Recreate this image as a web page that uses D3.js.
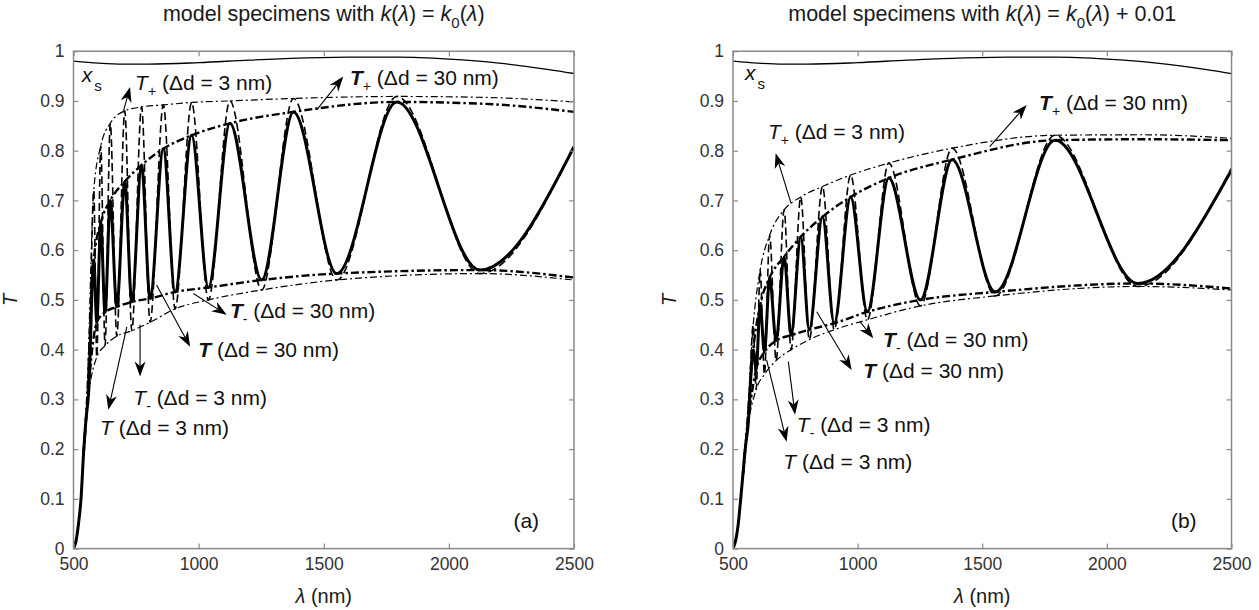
<!DOCTYPE html>
<html>
<head>
<meta charset="utf-8">
<script src="https://cdn.jsdelivr.net/npm/d3@7"></script>
<style>
body { margin: 0; background: #fff; }
svg text { font-family: "Liberation Sans", Arial, Helvetica, sans-serif; }
</style>
</head>
<body>
<svg id="fig" width="1259" height="610"></svg>
<script>
// wavelengths (nm) of the interference extrema, same film in both panels
var peakNm = [581, 609, 647, 705, 772, 859, 972, 1125, 1379, 1792];
var valleyNm = [593, 626, 673, 733, 806, 906, 1039, 1252, 1552, 2124];
var riseNm = [500, 510, 520, 530, 540, 550, 560];
var upTailNm = [2150, 2500];
var lowTailNm = [2500];
var xTicks = [500, 1000, 1500, 2000, 2500];
var yTicks = [0, 0.1, 0.2, 0.3, 0.4, 0.5, 0.6, 0.7, 0.8, 0.9, 1];

// substrate curve x_s (same in both panels)
var xsNm = [500, 600, 700, 800, 1000, 1200, 1400, 1600, 1800, 2000, 2200, 2400, 2500];
var xsVal = [0.98, 0.976, 0.974, 0.974, 0.977, 0.982, 0.986, 0.988, 0.988, 0.984, 0.976, 0.963, 0.955];

// panel (a): k = k0
var riseA = [0, 0.015, 0.05, 0.1, 0.19, 0.26, 0.31];
var tPeakA = [0.58, 0.655, 0.70, 0.738, 0.771, 0.804, 0.831, 0.855, 0.878, 0.898];
var tValleyA = [0.455, 0.475, 0.486, 0.496, 0.503, 0.516, 0.525, 0.540, 0.553, 0.560];
var t3PeakA = [0.72, 0.81, 0.855, 0.88, 0.888, 0.892, 0.897, 0.90, 0.905, 0.909];
var t3ValleyA = [0.385, 0.408, 0.427, 0.438, 0.455, 0.482, 0.50, 0.52, 0.54, 0.553];
var tEndA = 0.808, t3EndA = 0.81;
var up30TailA = [0.894, 0.878], up3TailA = [0.907, 0.898];
var low30TailA = [0.545], low3TailA = [0.54];

// panel (b): k = k0 + 0.01
var riseB = [0, 0.015, 0.045, 0.095, 0.15, 0.205, 0.245];
var tPeakB = [0.40, 0.49, 0.545, 0.587, 0.627, 0.667, 0.707, 0.745, 0.782, 0.821];
var tValleyB = [0.36, 0.395, 0.418, 0.429, 0.44, 0.453, 0.476, 0.50, 0.516, 0.533];
var t3PeakB = [0.45, 0.56, 0.63, 0.681, 0.707, 0.728, 0.751, 0.775, 0.805, 0.831];
var t3ValleyB = [0.32, 0.35, 0.378, 0.40, 0.42, 0.44, 0.46, 0.488, 0.508, 0.527];
var tEndB = 0.761, t3EndB = 0.765;
var up30TailB = [0.823, 0.821], up3TailB = [0.832, 0.825];
var low30TailB = [0.523], low3TailB = [0.52];

// annotations, in data units: label start, arrow tail, arrow tip
var notesA = [
    {sub: "+", rest: "(\u0394d = 3 nm)", bold: false, at: [746, 0.922], from: [699, 0.878], to: [726, 0.928]},
    {sub: "+", rest: "(\u0394d = 30 nm)", bold: true, at: [1605, 0.932], from: [1472, 0.882], to: [1578, 0.949]},
    {sub: "-", rest: "(\u0394d = 30 nm)", bold: true, at: [1125, 0.463], from: [979, 0.513], to: [1112, 0.470]},
    {sub: "", rest: "(\u0394d = 30 nm)", bold: true, at: [999, 0.386], from: [832, 0.530], to: [966, 0.406]},
    {sub: "-", rest: "(\u0394d = 3 nm)", bold: false, at: [739, 0.289], from: [766, 0.450], to: [766, 0.346]},
    {sub: "", rest: "(\u0394d = 3 nm)", bold: false, at: [606, 0.228], from: [713, 0.446], to: [639, 0.279]}
];
var notesB = [
    {sub: "+", rest: "(\u0394d = 3 nm)", bold: false, at: [640, 0.823], from: [733, 0.694], to: [671, 0.795]},
    {sub: "+", rest: "(\u0394d = 30 nm)", bold: true, at: [1728, 0.882], from: [1530, 0.808], to: [1678, 0.892]},
    {sub: "-", rest: "(\u0394d = 30 nm)", bold: true, at: [1102, 0.406], from: [1010, 0.456], to: [1063, 0.423]},
    {sub: "", rest: "(\u0394d = 30 nm)", bold: true, at: [1023, 0.342], from: [836, 0.476], to: [976, 0.359]},
    {sub: "-", rest: "(\u0394d = 3 nm)", bold: false, at: [756, 0.235], from: [722, 0.376], to: [749, 0.269]},
    {sub: "", rest: "(\u0394d = 3 nm)", bold: false, at: [702, 0.161], from: [635, 0.379], to: [715, 0.215]}
];

var svg = d3.select("#fig");
var plotTop = 51.2, plotBottom = 548.6;
var noteSize = 21;

// rise, then the extrema in wavelength order, then the value at 2500 nm
function oscPoints(rise, peaks, valleys, end) {
    var pts = riseNm.map(function(n, i) { return [n, rise[i]]; });
    var ext = peakNm.map(function(n, i) { return [n, peaks[i]]; })
        .concat(valleyNm.map(function(n, i) { return [n, valleys[i]]; }));
    ext.sort(function(a, b) { return a[0] - b[0]; });
    return pts.concat(ext, [[2500, end]]);
}

// envelope leaves the rising edge and runs through one set of extrema
function envPoints(rise, nm, vals, tailNm, tailVals) {
    var pts = [[riseNm[4], rise[4]], [riseNm[5], rise[5]]];
    nm.forEach(function(n, i) { pts.push([n, vals[i]]); });
    tailNm.forEach(function(n, i) { pts.push([n, tailVals[i]]); });
    return pts;
}

function drawArrow(g, x1, y1, x2, y2) {
    var a = Math.atan2(y2 - y1, x2 - x1);
    var c = Math.cos(a), s = Math.sin(a);
    var L = 15, w = 5.5, notch = 4.5;
    var bx = x2 - L * c, by = y2 - L * s;
    var nx = x2 - (L - notch) * c, ny = y2 - (L - notch) * s;
    g.append("line")
        .attr("x1", x1).attr("y1", y1).attr("x2", nx).attr("y2", ny)
        .attr("stroke", "#000").attr("stroke-width", 1.1);
    g.append("path")
        .attr("d", "M" + x2 + "," + y2 +
            "L" + (bx - w * s) + "," + (by + w * c) +
            "L" + nx + "," + ny +
            "L" + (bx + w * s) + "," + (by - w * c) + "Z")
        .attr("fill", "#000");
}

function drawNote(g, n, x, y) {
    var t = g.append("text")
        .attr("x", x(n.at[0])).attr("y", y(n.at[1]))
        .attr("font-size", noteSize).attr("fill", "#111");
    t.append("tspan").attr("font-style", "italic")
        .attr("font-weight", n.bold ? "bold" : "normal").text("T");
    if (n.sub) {
        t.append("tspan").attr("font-size", 14).attr("dy", 6).text(n.sub);
        t.append("tspan").attr("dy", -6).text(" " + n.rest);
    } else {
        t.append("tspan").text(" " + n.rest);
    }
    drawArrow(g, x(n.from[0]), y(n.from[1]), x(n.to[0]), y(n.to[1]));
}

function drawPanel(p) {
    var x = d3.scaleLinear().domain([500, 2500]).range([p.x0, p.x1]);
    var y = d3.scaleLinear().domain([0, 1]).range([plotBottom, plotTop]);
    var g = svg.append("g");

    var clipId = "clip" + p.key;
    svg.append("clipPath").attr("id", clipId)
        .append("rect").attr("x", p.x0).attr("y", plotTop)
        .attr("width", p.x1 - p.x0).attr("height", plotBottom - plotTop);

    var line = d3.line()
        .x(function(d) { return x(d[0]); })
        .y(function(d) { return y(d[1]); })
        .curve(d3.curveMonotoneX);

    var plot = g.append("g").attr("clip-path", "url(#" + clipId + ")");

    // thin dash-dot envelopes, dd = 3 nm
    [p.up3, p.low3].forEach(function(pts) {
        plot.append("path").attr("d", line(pts))
            .attr("fill", "none").attr("stroke", "#000")
            .attr("stroke-width", 1.2).attr("stroke-dasharray", "7,3,2,3");
    });
    // dashed T, dd = 3 nm
    plot.append("path").attr("d", line(p.t3))
        .attr("fill", "none").attr("stroke", "#000")
        .attr("stroke-width", 1.6).attr("stroke-dasharray", "8,4");
    // thick dash-dot envelopes, dd = 30 nm
    [p.up30, p.low30].forEach(function(pts) {
        plot.append("path").attr("d", line(pts))
            .attr("fill", "none").attr("stroke", "#000")
            .attr("stroke-width", 2.4).attr("stroke-dasharray", "8,3,2.5,3");
    });
    // solid T, dd = 30 nm
    plot.append("path").attr("d", line(p.t30))
        .attr("fill", "none").attr("stroke", "#000")
        .attr("stroke-width", 3).attr("stroke-linejoin", "round");
    // substrate x_s
    var xsPts = xsNm.map(function(n, i) { return [n, xsVal[i]]; });
    plot.append("path").attr("d", line(xsPts))
        .attr("fill", "none").attr("stroke", "#000").attr("stroke-width", 1.4);

    // axes, MATLAB style box with ticks inside on all sides
    var fmt = function(d) { return String(+d.toFixed(1)); };
    var axes = [
        {ax: d3.axisBottom(x).tickValues(xTicks).tickFormat(fmt).tickPadding(9), tr: "translate(0," + plotBottom + ")"},
        {ax: d3.axisTop(x).tickValues(xTicks).tickFormat(""), tr: "translate(0," + plotTop + ")"},
        {ax: d3.axisLeft(y).tickValues(yTicks).tickFormat(fmt).tickPadding(9), tr: "translate(" + p.x0 + ",0)"},
        {ax: d3.axisRight(y).tickValues(yTicks).tickFormat(""), tr: "translate(" + p.x1 + ",0)"}
    ];
    axes.forEach(function(a) {
        var ag = g.append("g").attr("transform", a.tr)
            .call(a.ax.tickSize(-5));
        ag.select(".domain").remove();
        ag.selectAll("line").attr("stroke", "#8a8a8a").attr("stroke-width", 1.2);
        ag.selectAll("text").attr("font-size", 17.5).attr("fill", "#333")
            .attr("font-family", "Liberation Sans, Arial, sans-serif");
    });
    g.append("rect")
        .attr("x", p.x0).attr("y", plotTop)
        .attr("width", p.x1 - p.x0).attr("height", plotBottom - plotTop)
        .attr("fill", "none").attr("stroke", "#8a8a8a").attr("stroke-width", 1.5);

    // x_s label
    var xs = g.append("text")
        .attr("x", x(p.xsAt[0])).attr("y", y(p.xsAt[1]))
        .attr("font-size", noteSize).attr("fill", "#111");
    xs.append("tspan").attr("font-style", "italic").text("x");
    xs.append("tspan").attr("font-size", 15).attr("dy", 9).attr("dx", 2).text("s");

    p.notes.forEach(function(n) { drawNote(g, n, x, y); });

    g.append("text")
        .attr("x", x(p.tagAt[0])).attr("y", y(p.tagAt[1]))
        .attr("font-size", noteSize).attr("fill", "#111").text(p.tag);

    // title
    var cx = (p.x0 + p.x1) / 2;
    var ti = g.append("text").attr("x", cx).attr("y", 21)
        .attr("text-anchor", "middle").attr("font-size", 21.5).attr("fill", "#1a1a1a");
    ti.append("tspan").text("model specimens with ");
    ti.append("tspan").attr("font-style", "italic").text("k");
    ti.append("tspan").text("(");
    ti.append("tspan").attr("font-style", "italic").text("\u03bb");
    ti.append("tspan").text(") = ");
    ti.append("tspan").attr("font-style", "italic").text("k");
    ti.append("tspan").attr("font-size", 15).attr("dy", 7).text("0");
    ti.append("tspan").attr("dy", -7).text("(");
    ti.append("tspan").attr("font-style", "italic").text("\u03bb");
    ti.append("tspan").text(")" + p.titleExtra);

    // axis labels
    var xl = g.append("text").attr("x", cx).attr("y", 603)
        .attr("text-anchor", "middle").attr("font-size", 20).attr("fill", "#1a1a1a");
    xl.append("tspan").attr("font-style", "italic").text("\u03bb");
    xl.append("tspan").text(" (nm)");

    g.append("text")
        .attr("transform", "translate(" + (p.x0 - 57) + "," + ((plotTop + plotBottom) / 2) + ") rotate(-90)")
        .attr("text-anchor", "middle").attr("font-size", 20).attr("font-style", "italic")
        .attr("fill", "#1a1a1a").text("T");
}

drawPanel({
    key: "a", tag: "(a)", x0: 73.5, x1: 574, titleExtra: "",
    t30: oscPoints(riseA, tPeakA, tValleyA, tEndA),
    t3: oscPoints(riseA, t3PeakA, t3ValleyA, t3EndA),
    up30: envPoints(riseA, peakNm, tPeakA, upTailNm, up30TailA),
    low30: envPoints(riseA, valleyNm, tValleyA, lowTailNm, low30TailA),
    up3: envPoints(riseA, peakNm, t3PeakA, upTailNm, up3TailA),
    low3: envPoints(riseA, valleyNm, t3ValleyA, lowTailNm, low3TailA),
    notes: notesA, xsAt: [533, 0.939], tagAt: [2258, 0.041]
});

drawPanel({
    key: "b", tag: "(b)", x0: 733, x1: 1231.5, titleExtra: " + 0.01",
    t30: oscPoints(riseB, tPeakB, tValleyB, tEndB),
    t3: oscPoints(riseB, t3PeakB, t3ValleyB, t3EndB),
    up30: envPoints(riseB, peakNm, tPeakB, upTailNm, up30TailB),
    low30: envPoints(riseB, valleyNm, tValleyB, lowTailNm, low30TailB),
    up3: envPoints(riseB, peakNm, t3PeakB, upTailNm, up3TailB),
    low3: envPoints(riseB, valleyNm, t3ValleyB, lowTailNm, low3TailB),
    notes: notesB, xsAt: [548, 0.943], tagAt: [2257, 0.041]
});
</script>
</body>
</html>
